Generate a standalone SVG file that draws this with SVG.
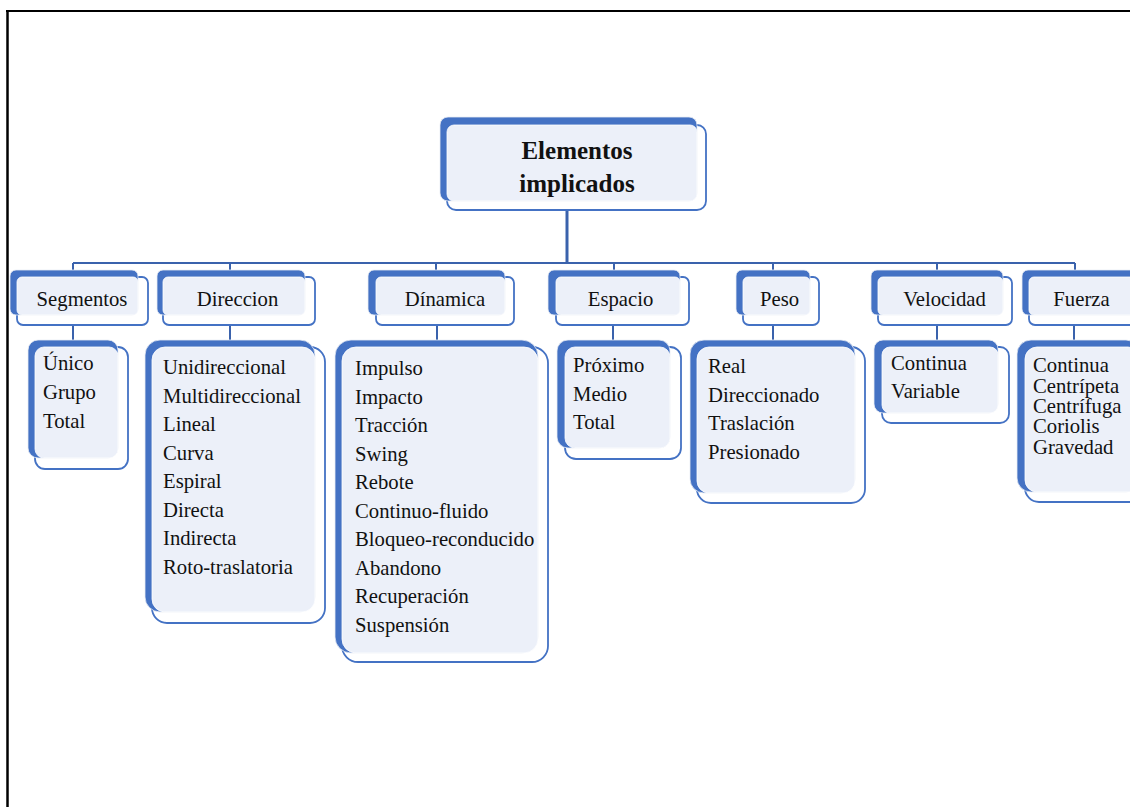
<svg xmlns="http://www.w3.org/2000/svg" width="1130" height="807" viewBox="0 0 1130 807">
<style>
.out{fill:#ffffff;stroke:#4472C4;stroke-width:1.8}
.blue{fill:#4472C4;stroke:#e8ecf4;stroke-width:0.8}
.lite{fill:#ECF0F9;stroke:#ffffff;stroke-width:0.8}
.conn{stroke:#3A62AC;stroke-width:2;fill:none}
text{font-family:"Liberation Serif","Times New Roman",serif;font-size:20.7px;fill:#111}
.t{font-weight:bold;font-size:25px;text-anchor:middle}
.h{text-anchor:middle}
</style>
<rect x="0" y="0" width="1130" height="807" fill="#ffffff"/>
<g id="page-border" stroke="#000" fill="none">
<line x1="6" y1="11" x2="1130" y2="11" stroke-width="2"/>
<line x1="7.5" y1="10" x2="7.5" y2="807" stroke-width="2.5"/>
</g>
<g id="connectors" class="conn">
<line x1="567" y1="210" x2="567" y2="263" stroke-width="3"/>
<line x1="73" y1="263" x2="1075" y2="263"/>
<line x1="73" y1="263" x2="73" y2="277"/>
<line x1="230" y1="263" x2="230" y2="277"/>
<line x1="436" y1="263" x2="436" y2="277"/>
<line x1="614" y1="263" x2="614" y2="277"/>
<line x1="773" y1="263" x2="773" y2="277"/>
<line x1="937" y1="263" x2="937" y2="277"/>
<line x1="1075" y1="263" x2="1075" y2="277"/>
<line x1="73" y1="325" x2="73" y2="347"/>
<line x1="230" y1="325" x2="230" y2="347"/>
<line x1="437" y1="325" x2="437" y2="347"/>
<line x1="613" y1="325" x2="613" y2="347"/>
<line x1="773" y1="325" x2="773" y2="347"/>
<line x1="937" y1="325" x2="937" y2="347"/>
<line x1="1074" y1="325" x2="1074" y2="347"/>
</g>
<g id="root">
<rect class="out" x="447" y="125" width="259" height="85" rx="9"/>
<rect class="blue" x="440" y="117" width="257" height="84" rx="8"/>
<rect class="lite" x="447" y="125" width="250" height="76" rx="7"/>
<text class="t" x="577" y="159">Elementos</text>
<text class="t" x="577" y="192">implicados</text>
</g>
<g id="segmentos">
<rect class="out" x="17" y="277" width="131" height="48" rx="6"/>
<rect class="blue" x="10" y="270" width="128" height="45" rx="6"/>
<rect class="lite" x="17" y="277" width="121" height="38" rx="5"/>
<text class="h" x="82" y="306">Segmentos</text>
</g>
<g id="direccion">
<rect class="out" x="163" y="277" width="152" height="48" rx="6"/>
<rect class="blue" x="157" y="270" width="148" height="45" rx="6"/>
<rect class="lite" x="163" y="277" width="142" height="38" rx="5"/>
<text class="h" x="237.5" y="306">Direccion</text>
</g>
<g id="dinamica">
<rect class="out" x="376" y="277" width="138" height="48" rx="6"/>
<rect class="blue" x="368" y="270" width="137" height="45" rx="6"/>
<rect class="lite" x="376" y="277" width="129" height="38" rx="5"/>
<text class="h" x="445" y="306">Dínamica</text>
</g>
<g id="espacio">
<rect class="out" x="556" y="277" width="133" height="48" rx="6"/>
<rect class="blue" x="548" y="270" width="132" height="45" rx="6"/>
<rect class="lite" x="556" y="277" width="124" height="38" rx="5"/>
<text class="h" x="620.5" y="306">Espacio</text>
</g>
<g id="peso">
<rect class="out" x="743" y="277" width="76" height="48" rx="6"/>
<rect class="blue" x="736" y="270" width="74" height="45" rx="6"/>
<rect class="lite" x="743" y="277" width="67" height="38" rx="5"/>
<text class="h" x="779.5" y="306">Peso</text>
</g>
<g id="velocidad">
<rect class="out" x="878" y="277" width="134" height="48" rx="6"/>
<rect class="blue" x="871" y="270" width="132" height="45" rx="6"/>
<rect class="lite" x="878" y="277" width="125" height="38" rx="5"/>
<text class="h" x="944.5" y="306">Velocidad</text>
</g>
<g id="fuerza">
<rect class="out" x="1029" y="277" width="121" height="48" rx="6"/>
<rect class="blue" x="1022" y="270" width="118" height="45" rx="6"/>
<rect class="lite" x="1029" y="277" width="111" height="38" rx="5"/>
<text class="h" x="1081.5" y="306">Fuerza</text>
</g>
<g id="segmentos-items">
<rect class="out" x="35" y="347" width="93" height="122" rx="10"/>
<rect class="blue" x="28" y="340" width="90" height="118" rx="10"/>
<rect class="lite" x="35" y="347" width="83" height="111" rx="9"/>
<text x="43" y="370">Único</text>
<text x="43" y="399">Grupo</text>
<text x="43" y="428">Total</text>
</g>
<g id="direccion-items">
<rect class="out" x="152" y="347" width="173" height="276" rx="15"/>
<rect class="blue" x="145" y="340" width="170" height="272" rx="15"/>
<rect class="lite" x="152" y="347" width="163" height="265" rx="13"/>
<text x="163" y="374">Unidireccional</text>
<text x="163" y="402.5">Multidireccional</text>
<text x="163" y="431">Lineal</text>
<text x="163" y="459.5">Curva</text>
<text x="163" y="488">Espiral</text>
<text x="163" y="516.5">Directa</text>
<text x="163" y="545">Indirecta</text>
<text x="163" y="573.5">Roto-traslatoria</text>
</g>
<g id="dinamica-items">
<rect class="out" x="342" y="347" width="206" height="315" rx="16"/>
<rect class="blue" x="335" y="340" width="203" height="313" rx="16"/>
<rect class="lite" x="342" y="347" width="196" height="306" rx="14"/>
<text x="355" y="375">Impulso</text>
<text x="355" y="403.5">Impacto</text>
<text x="355" y="432">Tracción</text>
<text x="355" y="460.5">Swing</text>
<text x="355" y="489">Rebote</text>
<text x="355" y="517.5">Continuo-fluido</text>
<text x="355" y="546">Bloqueo-reconducido</text>
<text x="355" y="574.5">Abandono</text>
<text x="355" y="603">Recuperación</text>
<text x="355" y="631.5">Suspensión</text>
</g>
<g id="espacio-items">
<rect class="out" x="565" y="347" width="116" height="112" rx="11"/>
<rect class="blue" x="557" y="340" width="113" height="108" rx="11"/>
<rect class="lite" x="565" y="347" width="105" height="101" rx="10"/>
<text x="573" y="372">Próximo</text>
<text x="573" y="400.5">Medio</text>
<text x="573" y="429">Total</text>
</g>
<g id="peso-items">
<rect class="out" x="697" y="347" width="168" height="156" rx="14"/>
<rect class="blue" x="690" y="340" width="165" height="153" rx="14"/>
<rect class="lite" x="697" y="347" width="158" height="146" rx="12"/>
<text x="708" y="373">Real</text>
<text x="708" y="401.5">Direccionado</text>
<text x="708" y="430">Traslación</text>
<text x="708" y="458.5">Presionado</text>
</g>
<g id="velocidad-items">
<rect class="out" x="882" y="347" width="127" height="76" rx="9"/>
<rect class="blue" x="874" y="340" width="124" height="73" rx="9"/>
<rect class="lite" x="882" y="347" width="116" height="66" rx="8"/>
<text x="891" y="370">Continua</text>
<text x="891" y="398">Variable</text>
</g>
<g id="fuerza-items">
<rect class="out" x="1025" y="347" width="125" height="155" rx="14"/>
<rect class="blue" x="1017" y="340" width="123" height="152" rx="14"/>
<rect class="lite" x="1025" y="347" width="115" height="145" rx="12"/>
<text x="1033" y="372">Continua</text>
<text x="1033" y="392.5">Centrípeta</text>
<text x="1033" y="413">Centrífuga</text>
<text x="1033" y="433">Coriolis</text>
<text x="1033" y="453.5">Gravedad</text>
</g>
</svg>
